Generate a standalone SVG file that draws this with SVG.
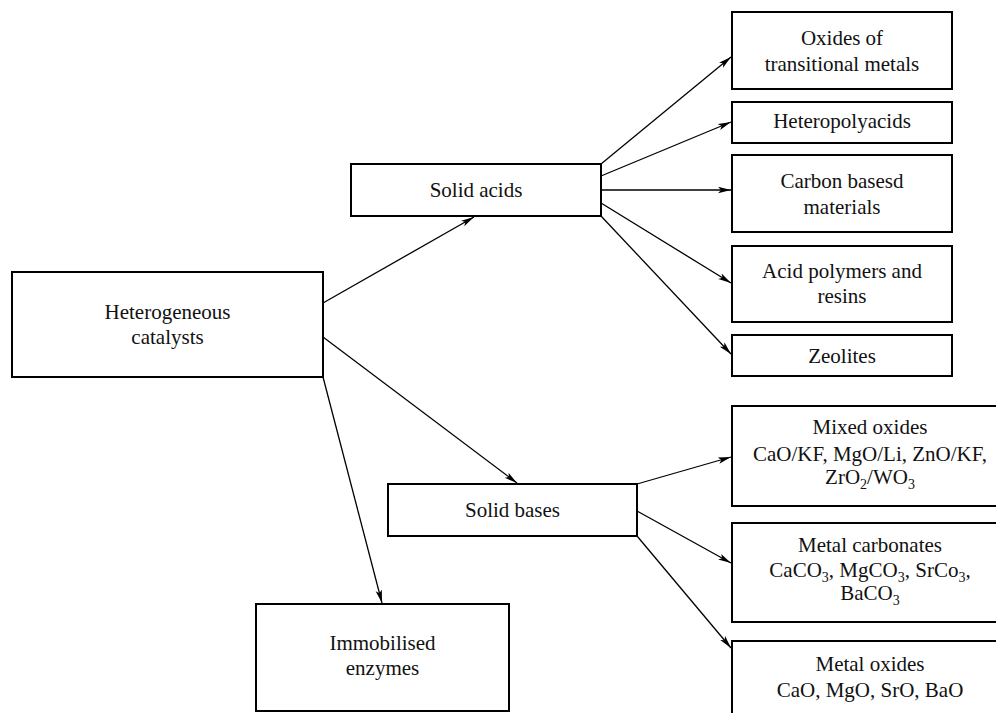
<svg xmlns="http://www.w3.org/2000/svg" width="996" height="713" viewBox="0 0 996 713">
<style>
  .box { fill: #ffffff; stroke: #000000; stroke-width: 2; }
  .lbl { font-family: "Liberation Serif", "Times New Roman", serif; font-size: 21px; fill: #111111; text-anchor: middle; }
  .sub { font-size: 14px; }
  .conn line { stroke: #000000; stroke-width: 1.3; fill: none; marker-end: url(#arrow); }
</style>
<defs>
  <marker id="arrow" markerUnits="userSpaceOnUse" markerWidth="14" markerHeight="8" refX="13" refY="4" orient="auto">
    <path d="M0,0.8 L13,4 L0,7.2 L3,4 Z" fill="#000000"/>
  </marker>
</defs>
<rect width="996" height="713" fill="#ffffff"/>

<g id="connectors" class="conn">
  <line x1="323" y1="303" x2="474" y2="217"/>
  <line x1="323" y1="337" x2="517" y2="483"/>
  <line x1="323" y1="377" x2="382" y2="603"/>
  <line x1="601" y1="164" x2="731" y2="57"/>
  <line x1="601" y1="176" x2="731" y2="122"/>
  <line x1="601" y1="190" x2="731" y2="190"/>
  <line x1="601" y1="203" x2="731" y2="283"/>
  <line x1="601" y1="216" x2="731" y2="354"/>
  <line x1="637" y1="484" x2="731" y2="457"/>
  <line x1="637" y1="511" x2="731" y2="563"/>
  <line x1="637" y1="536" x2="731" y2="648"/>
</g>

<g id="heterogeneous">
  <rect class="box" x="12" y="272" width="311" height="105"/>
  <text class="lbl" x="167.5" y="319">Heterogeneous</text>
  <text class="lbl" x="167.5" y="344">catalysts</text>
</g>

<g id="solid-acids">
  <rect class="box" x="351" y="164" width="250" height="52"/>
  <text class="lbl" x="476" y="197">Solid acids</text>
</g>

<g id="solid-bases">
  <rect class="box" x="388" y="484" width="249" height="52"/>
  <text class="lbl" x="512.5" y="517">Solid bases</text>
</g>

<g id="immobilised">
  <rect class="box" x="256" y="604" width="253" height="107"/>
  <text class="lbl" x="382.5" y="650">Immobilised</text>
  <text class="lbl" x="382.5" y="675">enzymes</text>
</g>

<g id="oxides-transitional">
  <rect class="box" x="732" y="12" width="220" height="77"/>
  <text class="lbl" x="842" y="45">Oxides of</text>
  <text class="lbl" x="842" y="71">transitional metals</text>
</g>

<g id="heteropolyacids">
  <rect class="box" x="732" y="102" width="220" height="41"/>
  <text class="lbl" x="842" y="128">Heteropolyacids</text>
</g>

<g id="carbon-based">
  <rect class="box" x="732" y="155" width="220" height="77"/>
  <text class="lbl" x="842" y="188">Carbon basesd</text>
  <text class="lbl" x="842" y="214">materials</text>
</g>

<g id="acid-polymers">
  <rect class="box" x="732" y="246" width="220" height="76"/>
  <text class="lbl" x="842" y="278">Acid polymers and</text>
  <text class="lbl" x="842" y="303">resins</text>
</g>

<g id="zeolites">
  <rect class="box" x="732" y="335" width="220" height="41"/>
  <text class="lbl" x="842" y="363">Zeolites</text>
</g>

<g id="mixed-oxides">
  <rect class="box" x="732" y="406" width="276" height="100"/>
  <text class="lbl" x="870" y="434">Mixed oxides</text>
  <text class="lbl" x="870" y="461">CaO/KF, MgO/Li, ZnO/KF,</text>
  <text class="lbl" x="870" y="484">ZrO<tspan class="sub" dy="5">2</tspan><tspan dy="-5">/WO</tspan><tspan class="sub" dy="5">3</tspan></text>
</g>

<g id="metal-carbonates">
  <rect class="box" x="732" y="523" width="276" height="99"/>
  <text class="lbl" x="870" y="552">Metal carbonates</text>
  <text class="lbl" x="870" y="577">CaCO<tspan class="sub" dy="5">3</tspan><tspan dy="-5">, MgCO</tspan><tspan class="sub" dy="5">3</tspan><tspan dy="-5">, SrCo</tspan><tspan class="sub" dy="5">3</tspan><tspan dy="-5">,</tspan></text>
  <text class="lbl" x="870" y="600">BaCO<tspan class="sub" dy="5">3</tspan></text>
</g>

<g id="metal-oxides">
  <rect class="box" x="732" y="641" width="276" height="90"/>
  <text class="lbl" x="870" y="671">Metal oxides</text>
  <text class="lbl" x="870" y="697">CaO, MgO, SrO, BaO</text>
</g>
</svg>
